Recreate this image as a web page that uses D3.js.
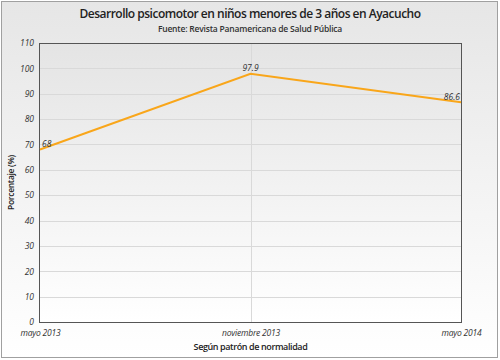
<!DOCTYPE html>
<html><head><meta charset="utf-8">
<script src="https://cdn.jsdelivr.net/npm/d3@7"></script>
<style>body{margin:0;background:#fff}svg{display:block;font-family:"Open Sans","Noto Sans",sans-serif}</style>
</head><body><svg id="c" width="500" height="360"></svg>
<script>
const categories = ["mayo 2013", "noviembre 2013", "mayo 2014"];
const values = [68, 97.9, 86.6];
const valueLabels = ["68", "97.9", "86.6"];
const yTicks = [0,10,20,30,40,50,60,70,80,90,100,110];
const title = "Desarrollo psicomotor en niños menores de 3 años en Ayacucho";
const subtitle = "Fuente: Revista Panamericana de Salud Pública";
const xTitle = "Según patrón de normalidad";
const yTitle = "Porcentaje (%)";

const svg = d3.select("#c");
const W = 500, H = 360;
const m = {l:40, r:39, t:43, b:38};
const FF = '"Open Sans","Noto Sans",sans-serif';
const defs = svg.append("defs");
const g1 = defs.append("linearGradient").attr("id","bg").attr("x1",0).attr("y1",0).attr("x2",0).attr("y2",1);
g1.append("stop").attr("offset","0%").attr("stop-color","#e6e6e6");
g1.append("stop").attr("offset","100%").attr("stop-color","#ffffff");
const g2 = defs.append("linearGradient").attr("id","pbg").attr("x1",0).attr("y1",0).attr("x2",0).attr("y2",1);
g2.append("stop").attr("offset","0%").attr("stop-color","#e4e4e4");
g2.append("stop").attr("offset","100%").attr("stop-color","#ffffff");

svg.append("rect").attr("x",1.5).attr("y",1.5).attr("width",W-4).attr("height",H-4)
  .attr("fill","url(#bg)").attr("stroke","#a0a0a0").attr("stroke-width",1);

const x = d3.scalePoint().domain(categories).range([m.l, W-m.r]);
const y = d3.scaleLinear().domain([0,110]).range([H-m.b, m.t]);

svg.append("rect").attr("x",m.l).attr("y",m.t).attr("width",W-m.r-m.l).attr("height",H-m.b-m.t)
  .attr("fill","url(#pbg)");

// grid
svg.append("g").selectAll("line").data(yTicks.slice(1,-1)).join("line")
  .attr("x1",m.l).attr("x2",W-m.r).attr("y1",d=>Math.round(y(d))+0.5).attr("y2",d=>Math.round(y(d))+0.5)
  .attr("stroke","#d9d9d9").attr("stroke-width",1);
svg.append("g").selectAll("line").data(categories.slice(1,-1)).join("line")
  .attr("x1",d=>Math.round(x(d))+0.5).attr("x2",d=>Math.round(x(d))+0.5).attr("y1",m.t).attr("y2",H-m.b)
  .attr("stroke","#d9d9d9").attr("stroke-width",1);

svg.append("rect").attr("x",m.l-0.5).attr("y",m.t+0.5).attr("width",W-m.r-m.l+1).attr("height",H-m.b-m.t)
  .attr("fill","none").attr("stroke","#555").attr("stroke-width",1);

// y axis
const ya = svg.append("g").attr("transform",`translate(${m.l-6},0)`)
  .call(d3.axisLeft(y).tickValues(yTicks).tickSize(0).tickPadding(0));
ya.select(".domain").remove();
ya.selectAll("text").attr("font-size",8.5).attr("font-style","italic").attr("fill","#333")
  .attr("font-family",FF);

// x axis
const xa = svg.append("g").attr("transform",`translate(0,${H-m.b+8})`)
  .call(d3.axisBottom(x).tickSize(0).tickPadding(0));
xa.select(".domain").remove();
xa.selectAll("text").attr("font-size",8.5).attr("font-style","italic").attr("fill","#333")
  .attr("font-family",FF).attr("letter-spacing",-0.2);

// line
const line = d3.line().x((d,i)=>x(categories[i])).y(d=>y(d));
svg.append("path").datum(values).attr("d",line).attr("fill","none")
  .attr("stroke","#f9a61a").attr("stroke-width",2);

// value labels
svg.append("g").selectAll("text").data(values).join("text")
  .attr("x",(d,i)=>x(categories[i]) + (i===0?2:(i===values.length-1?-1:0)))
  .attr("y",(d,i)=>y(d)-2.5)
  .attr("text-anchor",(d,i)=>i===0?"start":(i===values.length-1?"end":"middle"))
  .attr("font-size",8.5).attr("font-style","italic").attr("fill","#333")
  .text((d,i)=>valueLabels[i]);

// titles
svg.append("text").attr("x",W/2).attr("y",18).attr("text-anchor","middle")
  .attr("font-size",12).attr("font-weight",600).attr("letter-spacing",-0.5).attr("fill","#222").text(title);
svg.append("text").attr("x",W/2).attr("y",31.5).attr("text-anchor","middle")
  .attr("font-size",8.5).attr("font-weight",600).attr("letter-spacing",-0.2).attr("fill","#333").text(subtitle);
svg.append("text").attr("x",(m.l+W-m.r)/2).attr("y",350).attr("text-anchor","middle")
  .attr("font-size",9).attr("font-weight",600).attr("letter-spacing",-0.4).attr("fill","#222").text(xTitle);
svg.append("text").attr("transform",`translate(11.5,${(m.t+H-m.b)/2}) rotate(-90)`)
  .attr("text-anchor","middle").attr("dy","0.35em")
  .attr("font-size",8.5).attr("font-weight",600).attr("letter-spacing",-0.3).attr("fill","#222").text(yTitle);
</script></body></html>
